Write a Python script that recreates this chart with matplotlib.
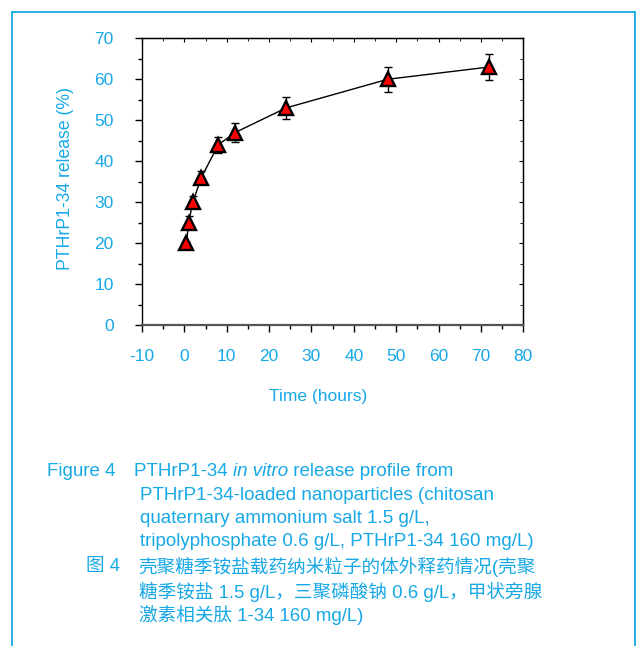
import matplotlib
matplotlib.use("Agg")
import matplotlib.pyplot as plt
from matplotlib.ticker import MultipleLocator
from matplotlib.lines import Line2D

# ---- data ----
time_h = [0.5, 1, 2, 4, 8, 12, 24, 48, 72]
release = [20, 25, 30, 36, 44, 47, 53, 60, 63]
release_err = [0.3, 1.5, 1.5, 1.6, 2.0, 2.2, 2.6, 3.1, 3.2]
x_ticks = [-10, 0, 10, 20, 30, 40, 50, 60, 70, 80]
y_ticks = [0, 10, 20, 30, 40, 50, 60, 70]

BLUE = '#17A8E6'
plt.rcParams['font.family'] = ['Liberation Sans', 'Noto Sans CJK SC', 'DejaVu Sans']
plt.rcParams['axes.unicode_minus'] = False

W, H = 636, 646
fig = plt.figure(figsize=(W / 100, H / 100), dpi=100)

# blue frame around figure panel
fig.add_artist(Line2D([11.5 / W, 11.5 / W], [0, 1 - 11.5 / H], color=BLUE, lw=1.3, transform=fig.transFigure))
fig.add_artist(Line2D([11.5 / W, 634.5 / W], [1 - 11.5 / H, 1 - 11.5 / H], color=BLUE, lw=1.3, transform=fig.transFigure))
fig.add_artist(Line2D([634.5 / W, 634.5 / W], [1 - 11.5 / H, 0], color=BLUE, lw=1.3, transform=fig.transFigure))

left, right = 142 / W, 523.3 / W
bottom, top = 1 - 325 / H, 1 - 38.3 / H
ax = fig.add_axes([left, bottom, right - left, top - bottom])

ax.errorbar(time_h, release, yerr=release_err, fmt='none', ecolor='black',
            elinewidth=1.0, capsize=2.8, capthick=1.0, zorder=2)
ax.plot(time_h, release, color='black', lw=1.0, zorder=1)
ax.plot(time_h, release, linestyle='none', marker='^', markersize=10.5,
        markerfacecolor='#FF0000', markeredgecolor='black', markeredgewidth=1.7, zorder=3)

ax.set_xlim(-10, 80)
ax.set_ylim(0, 70)
ax.set_xticks(x_ticks)
ax.set_yticks(y_ticks)
ax.xaxis.set_minor_locator(MultipleLocator(5))
ax.yaxis.set_minor_locator(MultipleLocator(5))

for s in ax.spines.values():
    s.set_linewidth(1.0)
    s.set_color('black')
ax.spines['bottom'].set_color('#555555')
ax.spines['bottom'].set_linewidth(1.6)

ax.tick_params(axis='both', which='major', direction='out', length=5, width=1.0,
               labelsize=12.5, labelcolor=BLUE, color='black')
ax.tick_params(axis='both', which='minor', direction='out', length=3, width=1.0, color='black')
ax.tick_params(axis='x', which='major', pad=12.5)
ax.tick_params(axis='y', which='major', pad=15.5)

# mirrored inward ticks on top/right
axt = ax.secondary_xaxis('top')
axt.set_xticks(x_ticks)
axt.xaxis.set_minor_locator(MultipleLocator(5))
axt.tick_params(which='major', direction='in', length=3, labeltop=False)
axt.tick_params(which='minor', direction='in', length=2)
axr = ax.secondary_yaxis('right')
axr.set_yticks(y_ticks)
axr.yaxis.set_minor_locator(MultipleLocator(5))
axr.tick_params(which='major', direction='in', length=3, labelright=False)
axr.tick_params(which='minor', direction='in', length=2)

ax.set_xlabel('Time (hours)', fontsize=12.5, color=BLUE, va='center')
ax.xaxis.set_label_coords((318 - 142) / 381.3, (325 - 396) / 286.7)
ax.set_ylabel('PTHrP1-34 release (%)', fontsize=12.7, color=BLUE, va='center')
ax.yaxis.set_label_coords((65 - 142) / 381.3, (325 - 178.5) / 286.7)

# ---- caption ----
fs_en = 13.5
fs_cn = 13.4

def ty(ypix):
    return 1 - ypix / H

def tx(xpix):
    return xpix / W

fig.canvas.draw()
r = fig.canvas.get_renderer()

def chain(x0, y, parts, fs):
    x = x0
    for txt, style in parts:
        t = fig.text(tx(x), ty(y), txt, fontsize=fs, color=BLUE, style=style, va='center', ha='left')
        bb = t.get_window_extent(renderer=r)
        x = x + bb.width
    return x

fig.text(tx(47), ty(471.5), 'Figure 4', fontsize=fs_en, color=BLUE, va='center', ha='left')
chain(134, 471.5, [('PTHrP1-34 ', 'normal'), ('in vitro', 'italic'), (' release profile from', 'normal')], fs_en)
fig.text(tx(140), ty(495), 'PTHrP1-34-loaded nanoparticles (chitosan', fontsize=fs_en, color=BLUE, va='center', ha='left')
fig.text(tx(140), ty(518.5), 'quaternary ammonium salt 1.5 g/L,', fontsize=fs_en, color=BLUE, va='center', ha='left')
fig.text(tx(140), ty(542), 'tripolyphosphate 0.6 g/L, PTHrP1-34 160 mg/L)', fontsize=fs_en, color=BLUE, va='center', ha='left')

fig.text(tx(86), ty(567), '图 4', fontsize=fs_cn, color=BLUE, va='center', ha='left')
fig.text(tx(138), ty(567), '壳聚糖季铵盐载药纳米粒子的体外释药情况(壳聚', fontsize=fs_cn, color=BLUE, va='center', ha='left')
fig.text(tx(139), ty(591.5), '糖季铵盐 1.5 g/L，三聚磷酸钠 0.6 g/L，甲状旁腺', fontsize=fs_cn, color=BLUE, va='center', ha='left')
fig.text(tx(139), ty(615), '激素相关肽 1-34 160 mg/L)', fontsize=fs_cn, color=BLUE, va='center', ha='left')

fig.savefig('out.png', dpi=100)
